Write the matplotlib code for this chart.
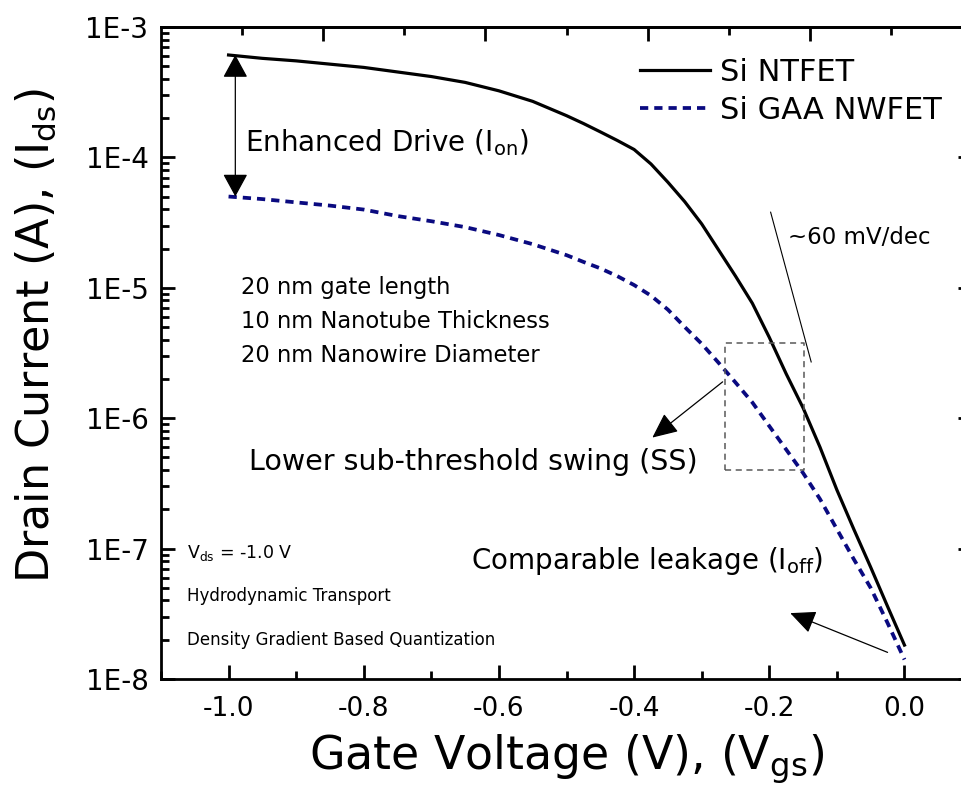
import numpy as np
import matplotlib.pyplot as plt

# ========================
# Datos
# ========================

vg = [-1.0, -0.95, -0.9, -0.85, -0.8, -0.75, -0.7, -0.65, -0.6, -0.55, -0.5,
      -0.475, -0.45, -0.425, -0.4, -0.375, -0.35, -0.325, -0.3, -0.275, -0.25,
      -0.225, -0.2, -0.175, -0.15, -0.125, -0.1, -0.075, -0.05, -0.025, 0.0]

# Si NTFET (A)
id_ntfet = [6.10e-4, 5.75e-4, 5.50e-4, 5.19e-4, 4.90e-4, 4.52e-4, 4.17e-4, 3.76e-4,
            3.24e-4, 2.69e-4, 2.09e-4, 1.82e-4, 1.57e-4, 1.35e-4, 1.15e-4, 8.9e-5,
            6.45e-5, 4.57e-5, 3.09e-5, 1.95e-5, 1.23e-5, 7.6e-6, 4.17e-6, 2.19e-6,
            1.20e-6, 6.0e-7, 2.82e-7, 1.41e-7, 7.2e-8, 3.6e-8, 1.82e-8]

# Si GAA NWFET (A)
id_nwfet = [5.01e-5, 4.79e-5, 4.52e-5, 4.27e-5, 3.98e-5, 3.55e-5, 3.24e-5, 2.92e-5,
            2.54e-5, 2.16e-5, 1.78e-5, 1.58e-5, 1.41e-5, 1.23e-5, 1.05e-5, 8.7e-6,
            6.8e-6, 5.0e-6, 3.72e-6, 2.66e-6, 1.88e-6, 1.32e-6, 8.7e-7, 5.75e-7,
            3.8e-7, 2.4e-7, 1.41e-7, 8.3e-8, 5.0e-8, 2.69e-8, 1.41e-8]

series_labels = ["Si NTFET", "Si GAA NWFET"]
ytick_vals = [1e-8, 1e-7, 1e-6, 1e-5, 1e-4, 1e-3]
ytick_labels = ["1E-8", "1E-7", "1E-6", "1E-5", "1E-4", "1E-3"]
xtick_vals = [-1.0, -0.8, -0.6, -0.4, -0.2, 0.0]
xtick_labels = ["-1.0", "-0.8", "-0.6", "-0.4", "-0.2", "0.0"]

# marcas del eje superior (no coinciden con las del inferior)
top_major = [-0.86, -0.62, -0.38, -0.14]
top_minor = [-0.98, -0.74, -0.50, -0.26, -0.02]

# anotaciones
caja_ss = (-0.266, -0.148, 4.0e-7, 3.8e-6)        # x0, x1, y0, y1
linea_60mv = ([-0.198, -0.138], [3.8e-5, 2.7e-6])
flecha_ss = ((-0.373, 7.1e-7), (-0.269, 1.9e-6))   # punta, origen
flecha_off = ((-0.169, 3.2e-8), (-0.025, 1.6e-8))

plt.rcParams["font.family"] = "DejaVu Sans"
plt.rcParams["mathtext.default"] = "regular"

fig = plt.figure(figsize=(9.61, 7.99), dpi=100)
ax = fig.add_axes([0.1675, 0.1502, 0.844, 0.816])

ax.plot(vg, id_ntfet, color="black", lw=2.3, label=series_labels[0])
ax.plot(vg, id_nwfet, color="#0a0a80", lw=2.7, ls=(0, (2.2, 1.6)),
        label=series_labels[1])

ax.set_yscale("log")
ax.set_xlim(-1.1, 0.1)
ax.set_ylim(1e-8, 1e-3)
ax.set_yticks(ytick_vals)
ax.set_yticklabels(ytick_labels)
ax.set_xticks(xtick_vals)
ax.set_xticklabels(xtick_labels)
ax.set_xticks(np.arange(-1.1, 0.11, 0.1), minor=True)

ax.tick_params(which="both", direction="in", width=2, color="black",
               top=False, right=True)
ax.tick_params(which="major", length=10)
ax.tick_params(which="minor", length=5.5)
ax.tick_params(axis="y", pad=9, labelsize=20)
ax.tick_params(axis="x", pad=12, labelsize=19)
for s in ax.spines.values():
    s.set_linewidth(2)

# eje superior con sus propias marcas
arriba = ax.secondary_xaxis("top")
arriba.set_xticks(top_major)
arriba.set_xticks(top_minor, minor=True)
arriba.tick_params(which="both", direction="in", width=2, color="black",
                   labeltop=False)
arriba.tick_params(which="major", length=10)
arriba.tick_params(which="minor", length=5.5)
arriba.spines["top"].set_linewidth(2)

ax.set_xlabel(r"Gate Voltage (V), (V$_{gs}$)", fontsize=33, labelpad=8)
ax.set_ylabel(r"Drain Current (A), (I$_{ds}$)", fontsize=32)
ax.yaxis.set_label_coords(-0.127, 0.526)

ax.legend(loc="upper left", bbox_to_anchor=(0.59, 0.953), frameon=False,
          fontsize=22, handlelength=2.3, handletextpad=0.35,
          labelspacing=0.3, borderaxespad=0, borderpad=0)

# flecha doble entre corrientes de encendido
ax.annotate("", xy=(vg[0] + 0.01, id_ntfet[0]), xytext=(vg[0] + 0.01, id_nwfet[0]),
            arrowprops=dict(arrowstyle="<|-|>,head_length=1.1,head_width=0.6",
                            mutation_scale=13, color="black", lw=0.9,
                            shrinkA=0, shrinkB=0))
ax.text(-0.975, 1.3e-4, r"Enhanced Drive (I$_{on}$)", fontsize=20, va="center")

ax.text(-0.982, 5.5e-6, "20 nm gate length\n10 nm Nanotube Thickness\n"
        "20 nm Nanowire Diameter", fontsize=16.3, va="center", linespacing=1.62)

ax.text(-0.173, 2.45e-5, "~60 mV/dec", fontsize=16.5, va="center")
ax.plot(*linea_60mv, color="black", lw=0.8)

x0, x1, y0, y1 = caja_ss
ax.plot([x0, x1, x1, x0, x0], [y0, y0, y1, y1, y0], color="0.35", lw=1.1,
        ls=(0, (4, 3)))
ax.annotate("", xy=flecha_ss[0], xytext=flecha_ss[1],
            arrowprops=dict(arrowstyle="-|>,head_length=1.2,head_width=0.55",
                            mutation_scale=13, color="black", lw=0.9,
                            shrinkA=0, shrinkB=0))
ax.text(-0.97, 4.6e-7, "Lower sub-threshold swing (SS)", fontsize=20.5,
        va="center")

ax.text(-0.642, 8.0e-8, r"Comparable leakage (I$_{off}$)", fontsize=20,
        va="center")
ax.annotate("", xy=flecha_off[0], xytext=flecha_off[1],
            arrowprops=dict(arrowstyle="-|>,head_length=1.2,head_width=0.55",
                            mutation_scale=13, color="black", lw=0.9,
                            shrinkA=0, shrinkB=0))

ax.text(-1.061, 9.3e-8, r"V$_{ds}$ = -1.0 V", fontsize=12.5, va="center")
ax.text(-1.061, 4.3e-8, "Hydrodynamic Transport", fontsize=12, va="center")
ax.text(-1.061, 2.0e-8, "Density Gradient Based Quantization", fontsize=12,
        va="center")

fig.savefig("out.png", dpi=100)
